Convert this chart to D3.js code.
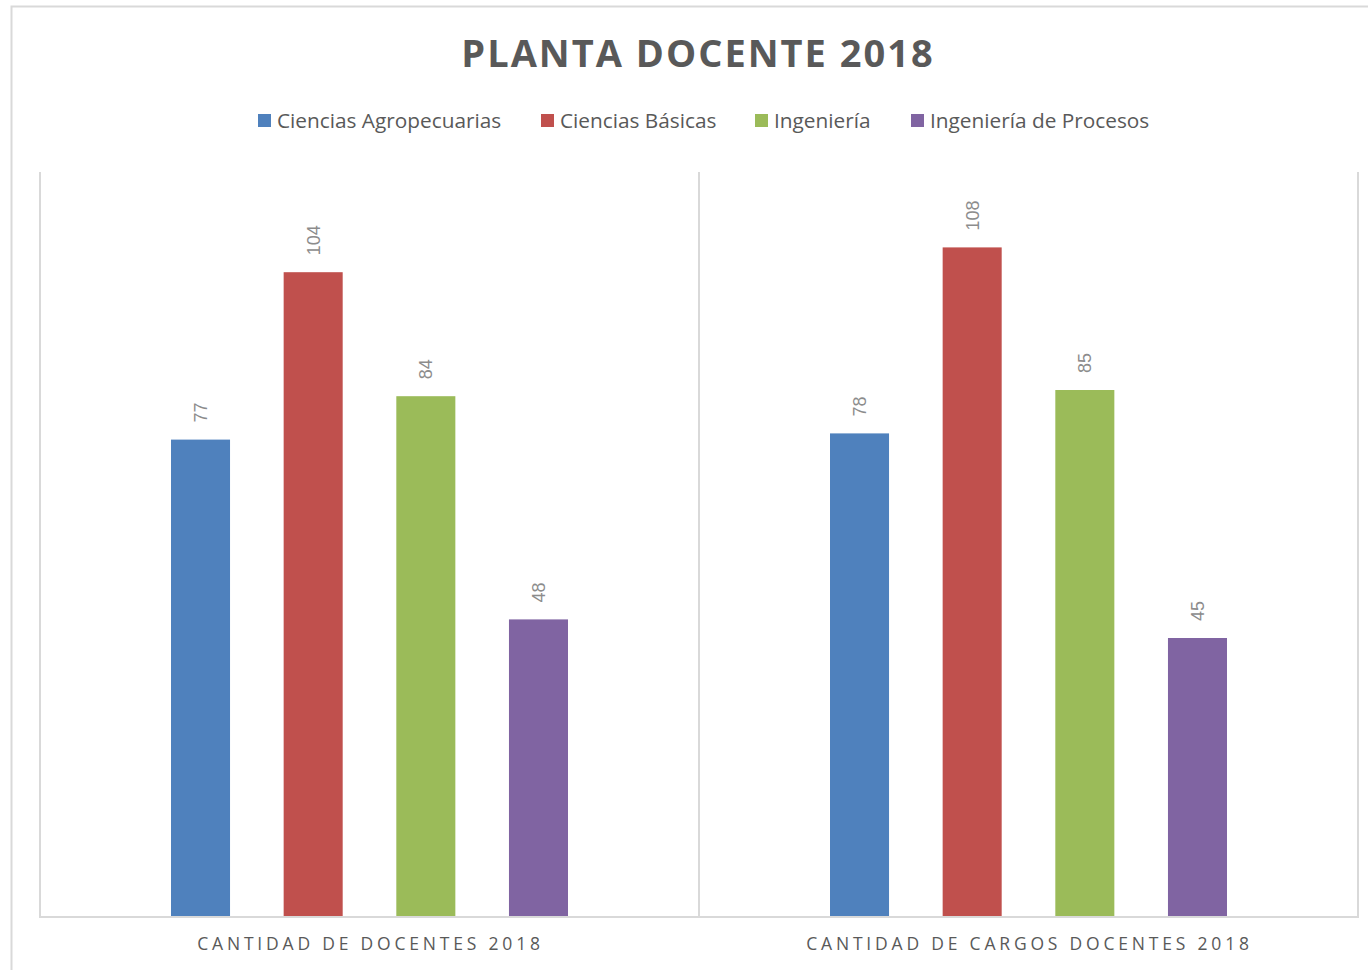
<!DOCTYPE html>
<html>
<head>
<meta charset="utf-8">
<script src="https://cdn.jsdelivr.net/npm/d3@7"></script>
<style>
  body { margin: 0; background: #fff; }
  svg { display: block; }
</style>
</head>
<body>
<div id="vis"></div>
<script>
////////data//////////////////////////////////////////////////
const categories = ["CANTIDAD DE DOCENTES 2018", "CANTIDAD DE CARGOS DOCENTES 2018"];
const seriesNames = ["Ciencias Agropecuarias", "Ciencias Básicas", "Ingeniería", "Ingeniería de Procesos"];
const agropecuarias = [77, 78];
const basicas = [104, 108];
const ingenieria = [84, 85];
const procesos = [48, 45];
const seriesColors = ["#4f81bd", "#c0504d", "#9bbb59", "#8064a2"];

////////setting up//////////////////////////////////////////////
const width = 1368, height = 970;
const margin = {left: 40, right: 10, top: 172, bottom: 54};
const plotRight = 1358, baseY = 917;

const svg = d3.select("#vis").append("svg")
  .attr("width", width)
  .attr("height", height)
  .attr("font-family", "'Open Sans', sans-serif");

// chart border (runs off the page on the right and bottom)
svg.append("rect")
  .attr("x", 11.5).attr("y", 6.5)
  .attr("width", 1400).attr("height", 1000)
  .attr("fill", "#fff")
  .attr("stroke", "#d9d9d9")
  .attr("stroke-width", 2);

const allSeries = [agropecuarias, basicas, ingenieria, procesos];
const rows = categories.map((c, i) => ({
  cat: c,
  values: seriesNames.map((s, j) => ({series: s, idx: j, value: allSeries[j][i]}))
}));

const x0 = d3.scaleBand().domain(categories).range([margin.left, plotRight]).paddingInner(0).paddingOuter(0);
const x1 = d3.scaleBand().domain(seriesNames).range([131, x0.bandwidth() - 131]).paddingInner(0.476);
const y = d3.scaleLinear().domain([0, 120]).range([baseY, margin.top + 1]);
const color = d3.scaleOrdinal().domain(seriesNames).range(seriesColors);

////////title & legend/////////////////////////////////////////
svg.append("text")
  .attr("x", 698).attr("y", 67)
  .attr("text-anchor", "middle")
  .attr("font-size", 38)
  .attr("font-weight", "bold")
  .attr("letter-spacing", 2)
  .attr("fill", "#595959")
  .text("PLANTA DOCENTE 2018");

const legendX = [258, 541, 755, 911];
const legend = svg.append("g").selectAll("g")
  .data(seriesNames)
  .join("g")
  .attr("transform", (d, i) => `translate(${legendX[i]},114)`);
legend.append("rect").attr("width", 13).attr("height", 13).attr("fill", d => color(d));
legend.append("text")
  .attr("x", 19).attr("y", 14)
  .attr("font-size", 20.8)
  .attr("fill", "#595959")
  .text(d => d);

////////grid lines between categories///////////////////////////
const grid = svg.append("g").attr("stroke", "#d9d9d9").attr("stroke-width", 2);
const sepX = categories.map(c => x0(c)).concat([x0.range()[1]]);
grid.selectAll("line.sep")
  .data(sepX)
  .join("line")
  .attr("class", "sep")
  .attr("x1", d => d).attr("x2", d => d)
  .attr("y1", margin.top).attr("y2", baseY);
grid.append("line")
  .attr("x1", margin.left - 1).attr("x2", plotRight + 1)
  .attr("y1", baseY).attr("y2", baseY);

////////bars/////////////////////////////////////////////////////
const groups = svg.append("g").selectAll("g")
  .data(rows)
  .join("g")
  .attr("transform", d => `translate(${x0(d.cat)},0)`);

groups.selectAll("rect")
  .data(d => d.values)
  .join("rect")
  .attr("x", d => x1(d.series))
  .attr("width", x1.bandwidth())
  .attr("y", d => y(d.value))
  .attr("height", d => y(0) - y(d.value) - 1)
  .attr("fill", d => color(d.series));

groups.selectAll("text.lbl")
  .data(d => d.values)
  .join("text")
  .attr("class", "lbl")
  .attr("transform", d => `translate(${x1(d.series) + x1.bandwidth() / 2 + 6.5},${y(d.value) - 17}) rotate(-90)`)
  .attr("font-family", "'Liberation Sans', Arial, sans-serif")
  .attr("font-size", 18)
  .attr("fill", "#8c8c8c")
  .text(d => d.value);

////////category labels//////////////////////////////////////////
svg.append("g").selectAll("text")
  .data(categories)
  .join("text")
  .attr("x", d => x0(d) + x0.bandwidth() / 2 + 1)
  .attr("y", 950)
  .attr("text-anchor", "middle")
  .attr("font-size", 17.5)
  .attr("letter-spacing", 3.8)
  .attr("fill", "#595959")
  .text(d => d);
</script>
</body>
</html>
